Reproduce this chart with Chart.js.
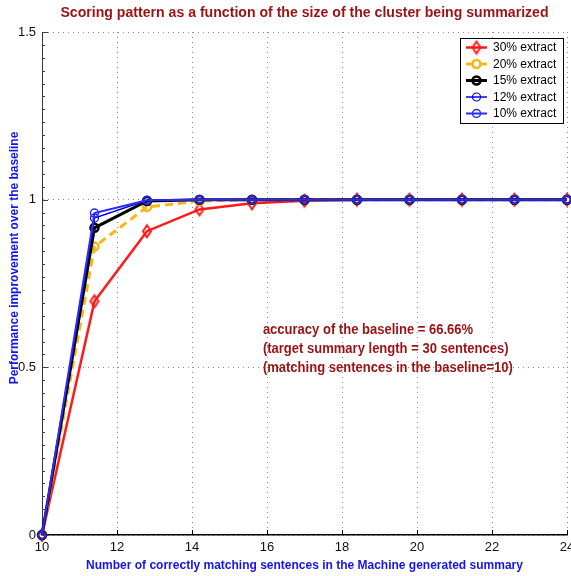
<!DOCTYPE html>
<html>
<head>
<meta charset="utf-8">
<script src="https://cdn.jsdelivr.net/npm/chart.js@4.4.1/dist/chart.umd.min.js"></script>
<style>
  html, body { margin: 0; padding: 0; background: #fff; }
</style>
</head>
<body>
<canvas id="scoring" width="571" height="576"></canvas>
<script>
// values
const matchingSentences = [10, 11.4, 12.8, 14.2, 15.6, 17, 18.4, 19.8, 21.2, 22.6, 24];
const extract30 = [0, 0.697, 0.906, 0.971, 0.989, 0.997, 1, 1, 1, 1, 1];
const extract20 = [0, 0.86, 0.978, 0.996, 1, 1, 1, 1, 1, 1, 1];
const extract15 = [0, 0.916, 0.996, 1, 1, 1, 1, 1, 1, 1, 1];
const extract12 = [0, 0.945, 0.998, 1, 1, 1, 1, 1, 1, 1, 1];
const extract10 = [0, 0.960, 0.998, 1, 1, 1, 1, 1, 1, 1, 1];
const seriesLabels = ['30% extract', '20% extract', '15% extract', '12% extract', '10% extract'];
const xTicks = [10, 12, 14, 16, 18, 20, 22, 24];
const yTicks = [0, 0.5, 1, 1.5];
const notes = [
  'accuracy of the baseline = 66.66%',
  '(target summary length = 30 sentences)',
  '(matching sentences in the baseline=10)'
];
const noteAt = { x: 15.89, y: 0.611 };

const chartTitle = 'Scoring pattern as a function of the size of the cluster being summarized';
const xTitle = 'Number of correctly matching sentences in the Machine generated summary';
const yTitle = 'Performance improvement over the baseline';

const sans = "'Liberation Sans', Arial, Helvetica, sans-serif";
const darkRed = '#9a1212';
const labelBlue = '#1414f0';

function diamond(w, h, color) {
  const c = document.createElement('canvas');
  c.width = w + 4;
  c.height = h + 4;
  const g = c.getContext('2d');
  g.strokeStyle = color;
  g.lineWidth = 2;
  g.beginPath();
  g.moveTo(c.width / 2, 2);
  g.lineTo(c.width - 2, c.height / 2);
  g.lineTo(c.width / 2, c.height - 2);
  g.lineTo(2, c.height / 2);
  g.closePath();
  g.stroke();
  return c;
}
const redDiamond = diamond(8, 12, '#ff1a1a');

function pts(values) {
  return values.map((v, i) => ({ x: matchingSentences[i], y: v }));
}

// the original uses a condensed face; squeeze text a little sideways
function narrowText(ctx, text, x, y, sx) {
  ctx.save();
  ctx.translate(x, y);
  ctx.scale(sx, 1);
  ctx.fillText(text, 0, 0);
  ctx.restore();
}

const styles = [
  { color: '#ff1a1a', width: 2.5, dash: [], point: redDiamond, radius: 6, pw: 2 },
  { color: '#f7b718', width: 3, dash: [8, 5], point: 'circle', radius: 4, pw: 2.5 },
  { color: '#000000', width: 3, dash: [], point: 'circle', radius: 4, pw: 2.5 },
  { color: '#0000e6', width: 1.5, dash: [], point: 'circle', radius: 4, pw: 1.2 },
  { color: '#2a2aff', width: 2, dash: [], point: 'circle', radius: 4, pw: 1.5 }
];
const series = [extract30, extract20, extract15, extract12, extract10];

const datasets = series.map((vals, i) => ({
  label: seriesLabels[i],
  data: pts(vals),
  borderColor: styles[i].color,
  backgroundColor: 'rgba(0,0,0,0)',
  borderWidth: styles[i].width,
  borderDash: styles[i].dash,
  pointStyle: styles[i].point,
  pointRadius: styles[i].radius,
  pointBorderWidth: styles[i].pw,
  pointBorderColor: styles[i].color,
  pointBackgroundColor: 'rgba(0,0,0,0)',
  tension: 0,
  fill: false,
  clip: false,
  order: series.length - 1 - i
}));

const decor = {
  id: 'decor',
  beforeDatasetsDraw(chart) {
    const { ctx, chartArea: a, scales: { x, y } } = chart;
    ctx.save();
    ctx.strokeStyle = '#444';
    ctx.lineWidth = 1;
    ctx.beginPath();
    for (let k = 0; k <= 39; k++) {
      const py = Math.round(y.getPixelForValue(k * 0.5 / 13)) + 0.5;
      ctx.moveTo(a.left, py);
      ctx.lineTo(a.left + 3, py);
    }
    yTicks.forEach(v => {
      const py = Math.round(y.getPixelForValue(v)) + 0.5;
      ctx.moveTo(a.left, py);
      ctx.lineTo(a.left + 6, py);
    });
    ctx.stroke();
    ctx.strokeStyle = '#000';
    ctx.beginPath();
    xTicks.forEach(v => {
      const px = Math.round(x.getPixelForValue(v)) + 0.5;
      ctx.moveTo(px, a.bottom);
      ctx.lineTo(px, a.bottom - 5);
    });
    ctx.stroke();
    ctx.restore();
  },
  afterDraw(chart) {
    const { ctx, chartArea: a, scales: { x, y } } = chart;
    ctx.save();

    // title, centred over the plot area
    ctx.font = 'bold 15px ' + sans;
    ctx.fillStyle = darkRed;
    ctx.textAlign = 'center';
    ctx.textBaseline = 'middle';
    narrowText(ctx, chartTitle, (a.left + a.right) / 2, 13, 0.94);

    // y axis title
    ctx.translate(14, 258);
    ctx.rotate(-Math.PI / 2);
    ctx.font = 'bold 13px ' + sans;
    ctx.fillStyle = labelBlue;
    narrowText(ctx, yTitle, 0, 0, 0.92);
    ctx.setTransform(1, 0, 0, 1, 0, 0);

    // note text
    ctx.font = 'bold 14px ' + sans;
    ctx.fillStyle = darkRed;
    ctx.textAlign = 'left';
    const nx = x.getPixelForValue(noteAt.x);
    const ny = y.getPixelForValue(noteAt.y);
    notes.forEach((t, i) => narrowText(ctx, t, nx, ny + i * 19, 0.93));

    // legend
    const bw = 103, bh = 85;
    const bl = a.right - 4 - bw, bt = a.top + 6;
    ctx.fillStyle = '#fff';
    ctx.fillRect(bl, bt, bw, bh);
    ctx.strokeStyle = '#000';
    ctx.lineWidth = 1;
    ctx.strokeRect(bl + 0.5, bt + 0.5, bw, bh);
    ctx.font = '12px ' + sans;
    datasets.forEach((ds, i) => {
      const ry = bt + 9.5 + i * 16.5;
      ctx.strokeStyle = ds.borderColor;
      ctx.lineWidth = ds.borderWidth;
      ctx.setLineDash(ds.borderDash);
      ctx.beginPath();
      ctx.moveTo(bl + 6, ry);
      ctx.lineTo(bl + 27, ry);
      ctx.stroke();
      ctx.setLineDash([]);
      const mx = bl + 16.5;
      if (ds.pointStyle === 'circle') {
        ctx.lineWidth = ds.pointBorderWidth;
        ctx.beginPath();
        ctx.arc(mx, ry, ds.pointRadius, 0, Math.PI * 2);
        ctx.stroke();
      } else {
        const im = ds.pointStyle;
        ctx.drawImage(im, mx - im.width / 2, ry - im.height / 2);
      }
      ctx.fillStyle = '#000';
      ctx.fillText(ds.label, bl + 33, ry + 0.5);
    });
    ctx.restore();
  }
};

const tickFont = { family: sans, size: 13 };

new Chart(document.getElementById('scoring'), {
  type: 'line',
  data: { datasets: datasets },
  options: {
    responsive: false,
    animation: false,
    layout: { autoPadding: false, padding: { left: 0, right: 4, top: 32, bottom: 0 } },
    plugins: {
      legend: { display: false },
      tooltip: { enabled: false },
      title: { display: false }
    },
    scales: {
      x: {
        type: 'linear',
        min: 10,
        max: 24,
        afterBuildTicks: s => { s.ticks = xTicks.map(v => ({ value: v })); },
        afterFit: s => { s.height = 41; s.paddingLeft = 0; s.paddingRight = 0; },
        grid: { color: '#8c8c8c', drawTicks: false },
        border: { color: '#000', width: 1.5, dash: [1, 4] },
        ticks: { padding: 5, color: '#111', font: tickFont },
        title: {
          display: true,
          text: xTitle,
          color: labelBlue,
          font: { family: sans, size: 12, weight: 'bold' },
          padding: { top: 0, bottom: 3 }
        }
      },
      y: {
        min: 0,
        max: 1.5,
        afterBuildTicks: s => { s.ticks = yTicks.map(v => ({ value: v })); },
        afterFit: s => { s.width = 42; s.paddingTop = 0; s.paddingBottom = 0; },
        grid: { color: '#8c8c8c', drawTicks: false },
        border: { color: '#333', width: 1, dash: [1, 4] },
        ticks: { padding: 6, color: '#111', font: tickFont, callback: v => String(v) }
      }
    }
  },
  plugins: [decor]
});
</script>
</body>
</html>
